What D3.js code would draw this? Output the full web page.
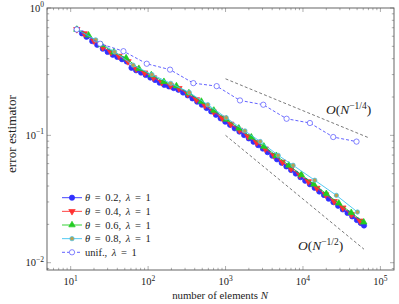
<!DOCTYPE html>
<html>
<head>
<meta charset="utf-8">
<script src="https://cdnjs.cloudflare.com/ajax/libs/d3/7.8.5/d3.min.js"></script>
<style>
  body { margin: 0; background: #fff; }
  svg { display: block; font-family: "Liberation Serif", "DejaVu Serif", serif; }
</style>
</head>
<body>
<svg width="399" height="304"></svg>
<script>
// theta = 0.2
var nA = [12, 14, 16, 19, 22, 26, 30, 35, 40, 46, 53, 61, 70, 81, 93, 107, 123, 141, 162, 186, 214, 246, 283, 325, 374, 430, 494, 568, 653, 751, 864, 993, 1142, 1313, 1510, 1737, 1997, 2297, 2641, 3037, 3493, 4017, 4619, 5312, 6109, 7025, 8079, 9291, 10685, 12287, 14130, 16250, 18687, 21490, 24714, 28421, 32684, 37587, 43225, 49708, 55800, 61400];
var eA = [0.679, 0.632, 0.594, 0.549, 0.514, 0.479, 0.452, 0.429, 0.413, 0.396, 0.380, 0.339, 0.324, 0.311, 0.298, 0.284, 0.272, 0.259, 0.249, 0.242, 0.235, 0.228, 0.217, 0.206, 0.195, 0.184, 0.174, 0.164, 0.154, 0.145, 0.136, 0.128, 0.121, 0.1135, 0.107, 0.1005, 0.0946, 0.0891, 0.0838, 0.0787, 0.0738, 0.0692, 0.0648, 0.0608, 0.0570, 0.0534, 0.0501, 0.0469, 0.0440, 0.0413, 0.0387, 0.0362, 0.0340, 0.0318, 0.0299, 0.0280, 0.0262, 0.0246, 0.0231, 0.0216, 0.0205, 0.0196];
// theta = 0.4
var nB = [12, 15, 20, 26, 33, 42, 55, 70, 90, 117, 150, 195, 250, 325, 420, 540, 700, 905, 1170, 1510, 1950, 2520, 3260, 4210, 5440, 7030, 9080, 11730, 15150, 19580, 25300, 32700, 42250, 54600];
var eB = [0.679, 0.630, 0.552, 0.492, 0.449, 0.419, 0.380, 0.333, 0.310, 0.284, 0.261, 0.246, 0.234, 0.211, 0.191, 0.172, 0.153, 0.137, 0.1227, 0.110, 0.0982, 0.0879, 0.0783, 0.0695, 0.0618, 0.0548, 0.0488, 0.0434, 0.0385, 0.0342, 0.0303, 0.0270, 0.0239, 0.0213];
// theta = 0.6
var nC = [12, 17, 25, 36, 52, 76, 110, 160, 232, 336, 487, 706, 1024, 1485, 2153, 3122, 4527, 6564, 9518, 13800, 20010, 29000, 42000, 60900];
var eC = [0.679, 0.611, 0.514, 0.450, 0.405, 0.334, 0.298, 0.264, 0.244, 0.215, 0.1845, 0.157, 0.1337, 0.1138, 0.0968, 0.0820, 0.0692, 0.0582, 0.0490, 0.0413, 0.0348, 0.0293, 0.0247, 0.0208];
// theta = 0.8
var nD = [12, 21, 37, 64, 112, 196, 340, 590, 1020, 1780, 2800, 4780, 7450, 14200, 27000, 50500];
var eD = [0.679, 0.562, 0.452, 0.356, 0.300, 0.256, 0.217, 0.174, 0.1374, 0.1084, 0.0895, 0.0697, 0.0582, 0.0444, 0.0338, 0.0250];
// uniform
var nU = [12, 24, 48, 96, 192, 384, 768, 1536, 3072, 6144, 12288, 24576, 49152];
var eU = [0.678, 0.524, 0.458, 0.365, 0.328, 0.257, 0.2435, 0.188, 0.174, 0.135, 0.125, 0.097, 0.0893];

// reference slopes
var refQuarter = {n: [1000, 72000], e: [0.278, 0.0953]};
var refHalf = {n: [1000, 61400], e: [0.1, 0.01276]};

var xTicks = [10, 100, 1000, 10000, 100000];
var xTickExp = ["1", "2", "3", "4", "5"];
var yTicks = [1, 0.1, 0.01];
var yTickExp = ["0", "\u22121", "\u22122"];

var legendLabels = [
  ["θ", " = 0.2, ", "λ", " = 1"],
  ["θ", " = 0.4, ", "λ", " = 1"],
  ["θ", " = 0.6, ", "λ", " = 1"],
  ["θ", " = 0.8, ", "λ", " = 1"],
  ["", "unif., ", "λ", " = 1"]
];

var svg = d3.select("svg");
var x0 = 47, x1 = 394, y0 = 8, y1 = 270;

var x = d3.scaleLog().domain([Math.pow(10, 0.6942), Math.pow(10, 5.1755)]).range([x0, x1]);
var y = d3.scaleLog().domain([Math.pow(10, -2.0573), 1]).range([y1, y0]);

svg.append("clipPath").attr("id", "clip").append("rect")
  .attr("x", x0).attr("y", y0).attr("width", x1 - x0).attr("height", y1 - y0);

// ticks on all four sides, pointing in
var minorX = [], minorY = [];
[1, 10, 100, 1000, 10000, 100000].forEach(function(d) {
  for (var k = 2; k <= 9; k++) {
    var v = d * k;
    if (x(v) > x0 && x(v) < x1) minorX.push(v);
  }
});
[0.001, 0.01, 0.1].forEach(function(d) {
  for (var k = 2; k <= 9; k++) {
    var v = d * k;
    if (y(v) > y0 && y(v) < y1) minorY.push(v);
  }
});
var tg = svg.append("g").attr("stroke", "#777").attr("stroke-width", 0.6);
function vt(list, len) {
  list.forEach(function(v) {
    tg.append("line").attr("x1", x(v)).attr("x2", x(v)).attr("y1", y1).attr("y2", y1 - len);
    tg.append("line").attr("x1", x(v)).attr("x2", x(v)).attr("y1", y0).attr("y2", y0 + len);
  });
}
function ht(list, len) {
  list.forEach(function(v) {
    tg.append("line").attr("y1", y(v)).attr("y2", y(v)).attr("x1", x0).attr("x2", x0 + len);
    tg.append("line").attr("y1", y(v)).attr("y2", y(v)).attr("x1", x1).attr("x2", x1 - len);
  });
}
vt(minorX, 2.2); vt(xTicks, 4);
ht(minorY, 2.2); ht(yTicks, 4);

// reference lines
var line = d3.line().x(function(d) { return x(d[0]); }).y(function(d) { return y(d[1]); });
[refQuarter, refHalf].forEach(function(r) {
  svg.append("path")
    .attr("d", line(d3.zip(r.n, r.e)))
    .attr("fill", "none").attr("stroke", "#222").attr("stroke-width", 0.6)
    .attr("stroke-dasharray", "3,2.2");
});

var series = [
  {n: nA, e: eA, color: "#3030ff", fill: "#3030ff", mark: d3.symbolCircle, size: 22, rot: 0},
  {n: nB, e: eB, color: "#ff3030", fill: "#ff3030", mark: d3.symbolTriangle, size: 18, rot: 180},
  {n: nC, e: eC, color: "#22cc22", fill: "#22cc22", mark: d3.symbolTriangle, size: 18, rot: 0},
  {n: nD, e: eD, color: "#40c4f0", fill: "#b8a050", mark: d3.symbolCircle, size: 15, rot: 0},
  {n: nU, e: eU, color: "#5050ff", fill: "#fff", mark: d3.symbolCircle, size: 22, rot: 0, dash: "3,2"}
];

var g = svg.append("g").attr("clip-path", "url(#clip)");
series.forEach(function(s) {
  var pts = d3.zip(s.n, s.e);
  g.append("path").attr("d", line(pts))
    .attr("fill", "none").attr("stroke", s.color).attr("stroke-width", 0.9)
    .attr("stroke-dasharray", s.dash || null);
  g.selectAll(null).data(pts).enter().append("path")
    .attr("d", d3.symbol().type(s.mark).size(s.size))
    .attr("transform", function(d) { return "translate(" + x(d[0]) + "," + y(d[1]) + ") rotate(" + s.rot + ")"; })
    .attr("fill", s.fill).attr("stroke", s.color).attr("stroke-width", 0.7);
});

// frame
svg.append("rect").attr("x", x0).attr("y", y0).attr("width", x1 - x0).attr("height", y1 - y0)
  .attr("fill", "none").attr("stroke", "#555").attr("stroke-width", 0.9);

// tick labels
xTicks.forEach(function(v, i) {
  var t = svg.append("text").attr("x", x(v)).attr("y", 285).attr("text-anchor", "middle")
    .attr("font-size", 10.5).attr("fill", "#222");
  t.append("tspan").text("10");
  t.append("tspan").attr("dy", -4.5).attr("font-size", 7.5).text(xTickExp[i]);
});
yTicks.forEach(function(v, i) {
  var t = svg.append("text").attr("x", 44).attr("y", y(v) + 3.5).attr("text-anchor", "end")
    .attr("font-size", 10.5).attr("fill", "#222");
  t.append("tspan").text("10");
  t.append("tspan").attr("dy", -4.5).attr("font-size", 7.5).text(yTickExp[i]);
});

// axis labels
svg.append("text").attr("x", 220).attr("y", 299).attr("text-anchor", "middle")
  .attr("font-size", 10.8).attr("fill", "#222")
  .html('number of elements <tspan font-style="italic">N</tspan>');
svg.append("text").attr("transform", "translate(16,134) rotate(-90)").attr("text-anchor", "middle")
  .attr("font-size", 13.2).attr("fill", "#222").text("error estimator");

// slope labels
function slopeLabel(xp, yp, frac) {
  var t = svg.append("text").attr("x", xp).attr("y", yp).attr("font-size", 13.5).attr("fill", "#222");
  t.append("tspan").attr("font-style", "italic").text("O");
  t.append("tspan").text("(");
  t.append("tspan").attr("font-style", "italic").text("N");
  t.append("tspan").attr("dy", -5.5).attr("font-size", 9.5).text("\u2212" + frac);
  t.append("tspan").attr("dy", 5.5).text(")");
}
slopeLabel(326, 114, "1/4");
slopeLabel(298, 250, "1/2");

// legend
var lg = svg.append("g");
series.forEach(function(s, i) {
  var yy = 197.7 + i * 13.65;
  lg.append("line").attr("x1", 62).attr("x2", 82).attr("y1", yy).attr("y2", yy)
    .attr("stroke", s.color).attr("stroke-width", 0.9).attr("stroke-dasharray", s.dash || null);
  lg.append("path").attr("d", d3.symbol().type(s.mark).size(s.size))
    .attr("transform", "translate(72," + yy + ") rotate(" + s.rot + ")")
    .attr("fill", s.fill).attr("stroke", s.color).attr("stroke-width", 0.7);
  var t = lg.append("text").attr("x", 85).attr("y", yy + 3.5).attr("font-size", 10.5)
    .attr("word-spacing", 2).attr("fill", "#222");
  var parts = legendLabels[i];
  t.append("tspan").attr("font-style", "italic").text(parts[0]);
  t.append("tspan").text(parts[1]);
  t.append("tspan").attr("font-style", "italic").text(parts[2]);
  t.append("tspan").text(parts[3]);
});
</script>
</body>
</html>
